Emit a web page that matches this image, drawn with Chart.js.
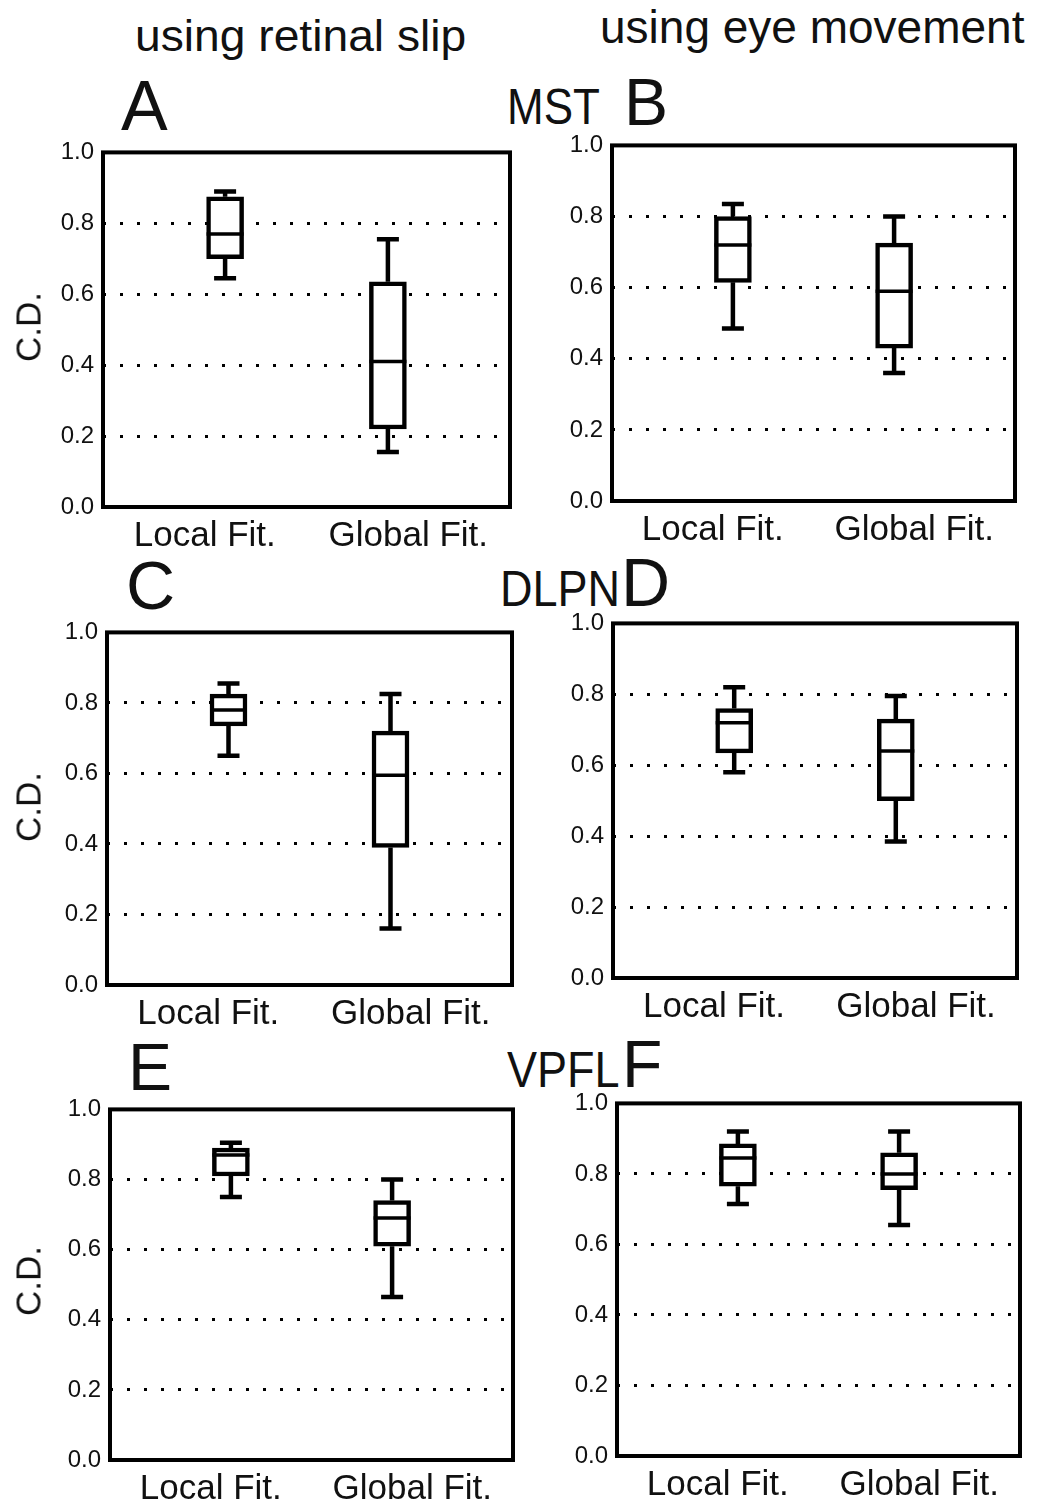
<!DOCTYPE html>
<html>
<head>
<meta charset="utf-8">
<script src="https://cdn.jsdelivr.net/npm/chart.js@4.4.1/dist/chart.umd.min.js"></script>
<style>
    body { margin: 0; background: #fff; width: 1041px; height: 1503px; position: relative; overflow: hidden;
           font-family: "Liberation Sans", Arial, sans-serif; color: #111; }
    .txt { position: absolute; white-space: nowrap; line-height: 1; transform-origin: left top; }
    canvas { position: absolute; }
</style>
</head>
<body>

<div class="txt" style="left:135px;top:14px;font-size:44px;transform:scaleX(1.05)">using retinal slip</div>
<div class="txt" style="left:600px;top:4px;font-size:46px;">using eye movement</div>

<div class="txt" style="left:121px;top:71px;font-size:70px;">A</div>
<div class="txt" style="left:507px;top:82px;font-size:50px;transform:scaleX(0.88)">MST</div>
<div class="txt" style="left:624px;top:69px;font-size:66px;">B</div>

<div class="txt" style="left:126px;top:551px;font-size:68px;">C</div>
<div class="txt" style="left:500px;top:564px;font-size:50px;transform:scaleX(0.9)">DLPN</div>
<div class="txt" style="left:621px;top:548px;font-size:68px;">D</div>

<div class="txt" style="left:128px;top:1034px;font-size:66px;">E</div>
<div class="txt" style="left:507px;top:1045px;font-size:50px;transform:scaleX(0.9)">VPFL</div>
<div class="txt" style="left:622px;top:1031px;font-size:66px;">F</div>

<script>
// ==========================
// Data (five-number summaries: min, q1, median, q3, max)
// ==========================
const categories = ["Local Fit.", "Global Fit."];
const yTicks = [0, 0.2, 0.4, 0.6, 0.8, 1.0];

const mstSlipLocal    = [0.645, 0.70, 0.77, 0.875, 0.89];
const mstSlipGlobal   = [0.155, 0.22, 0.41, 0.635, 0.755];
const mstEyeLocal     = [0.485, 0.615, 0.72, 0.80, 0.835];
const mstEyeGlobal    = [0.36, 0.43, 0.59, 0.725, 0.80];

const dlpnSlipLocal   = [0.65, 0.735, 0.78, 0.825, 0.855];
const dlpnSlipGlobal  = [0.16, 0.39, 0.595, 0.72, 0.825];
const dlpnEyeLocal    = [0.58, 0.635, 0.72, 0.76, 0.82];
const dlpnEyeGlobal   = [0.385, 0.50, 0.64, 0.73, 0.795];

const vpflSlipLocal   = [0.75, 0.81, 0.87, 0.89, 0.905];
const vpflSlipGlobal  = [0.465, 0.61, 0.69, 0.74, 0.80];
const vpflEyeLocal    = [0.715, 0.765, 0.845, 0.885, 0.92];
const vpflEyeGlobal   = [0.655, 0.755, 0.80, 0.86, 0.92];

const FONT = '"Liberation Sans", Arial, sans-serif';

// ==========================
// Whiskers, medians and frame
// ==========================
const boxWhisker = {
    id: "boxWhisker",
    beforeDatasetsDraw(chart, args, opts) {
        const { ctx, scales: { x, y } } = chart;
        ctx.save();
        ctx.strokeStyle = "#000";
        ctx.lineWidth = 4.5;
        opts.stats.forEach((s, i) => {
            const px = x.getPixelForValue(i);
            const half = 11;
            ctx.beginPath();
            ctx.moveTo(px, y.getPixelForValue(s[3]));
            ctx.lineTo(px, y.getPixelForValue(s[4]));
            ctx.moveTo(px, y.getPixelForValue(s[1]));
            ctx.lineTo(px, y.getPixelForValue(s[0]));
            ctx.moveTo(px - half, y.getPixelForValue(s[4]));
            ctx.lineTo(px + half, y.getPixelForValue(s[4]));
            ctx.moveTo(px - half, y.getPixelForValue(s[0]));
            ctx.lineTo(px + half, y.getPixelForValue(s[0]));
            ctx.stroke();
        });
        ctx.restore();
    },
    afterDatasetsDraw(chart, args, opts) {
        const { ctx, scales: { x, y } } = chart;
        const meta = chart.getDatasetMeta(0);
        ctx.save();
        ctx.strokeStyle = "#000";
        ctx.lineWidth = 3.5;
        opts.stats.forEach((s, i) => {
            const px = x.getPixelForValue(i);
            const w = meta.data[i].width / 2;
            const py = y.getPixelForValue(s[2]);
            ctx.beginPath();
            ctx.moveTo(px - w, py);
            ctx.lineTo(px + w, py);
            ctx.stroke();
        });
        const a = chart.chartArea;
        ctx.lineWidth = 4;
        ctx.strokeRect(a.left, a.top, a.right - a.left, a.bottom - a.top);
        ctx.restore();
    }
};

// ==========================
// Panel builder
// ==========================
function makePanel(area, local, global) {
    const padL = 80, padT = 16, padR = 12, padB = 56;
    const w = area.right - area.left + padL + padR;
    const h = area.bottom - area.top + padT + padB;
    const canvas = document.createElement("canvas");
    canvas.width = w;
    canvas.height = h;
    canvas.style.left = (area.left - padL) + "px";
    canvas.style.top = (area.top - padT) + "px";
    canvas.style.width = w + "px";
    canvas.style.height = h + "px";
    document.body.appendChild(canvas);

    new Chart(canvas, {
        type: "bar",
        data: {
            datasets: [{
                data: [
                    { x: 0, y: [local[1], local[3]] },
                    { x: 1, y: [global[1], global[3]] }
                ],
                backgroundColor: "#fff",
                borderColor: "#000",
                borderWidth: 4.5,
                borderSkipped: false,
                barThickness: 37
            }]
        },
        options: {
            responsive: false,
            animation: false,
            events: [],
            layout: { padding: { top: padT, right: padR, left: 0, bottom: 0 } },
            plugins: {
                legend: { display: false },
                tooltip: { enabled: false },
                boxWhisker: { stats: [local, global] }
            },
            scales: {
                x: {
                    type: "linear",
                    offset: false,
                    min: -0.75,
                    max: 1.75,
                    grid: { display: false, offset: false },
                    border: { display: false },
                    afterBuildTicks: s => { s.ticks = categories.map((c, i) => ({ value: i === 0 ? -0.125 : 1.125 })); },
                    afterFit: s => { s.height = padB; },
                    ticks: {
                        autoSkip: false,
                        maxRotation: 0,
                        padding: 0,
                        color: "#111",
                        font: { size: 35, family: FONT },
                        callback: v => categories[v < 0.5 ? 0 : 1]
                    }
                },
                y: {
                    min: 0,
                    max: 1,
                    afterBuildTicks: s => { s.ticks = yTicks.map(v => ({ value: v })); },
                    afterFit: s => { s.width = padL; },
                    ticks: {
                        padding: 9,
                        color: "#111",
                        font: { size: 24, family: FONT },
                        callback: v => v.toFixed(1)
                    },
                    grid: {
                        drawTicks: false,
                        lineWidth: 3,
                        color: c => (c.tick && c.tick.value > 0.01 && c.tick.value < 0.99) ? "#000" : "rgba(0,0,0,0)"
                    },
                    border: { display: false, dash: [3, 14] }
                }
            }
        },
        plugins: [boxWhisker]
    });
}

makePanel({ left: 103, right: 510, top: 145, bottom: 507 }, mstSlipLocal, mstSlipGlobal);
makePanel({ left: 612, right: 1015, top: 138, bottom: 501 }, mstEyeLocal, mstEyeGlobal);
makePanel({ left: 107, right: 512, top: 625, bottom: 985 }, dlpnSlipLocal, dlpnSlipGlobal);
makePanel({ left: 613, right: 1017, top: 616, bottom: 978 }, dlpnEyeLocal, dlpnEyeGlobal);
makePanel({ left: 110, right: 513, top: 1102, bottom: 1460 }, vpflSlipLocal, vpflSlipGlobal);
makePanel({ left: 617, right: 1020, top: 1096, bottom: 1456 }, vpflEyeLocal, vpflEyeGlobal);

// ==========================
// Y axis titles (left column)
// ==========================
[327, 807, 1281].forEach(cy => {
    const d = document.createElement("div");
    d.className = "txt";
    d.textContent = "C.D.";
    d.style.fontSize = "35px";
    d.style.left = "28px";
    d.style.top = cy + "px";
    d.style.transformOrigin = "center center";
    d.style.transform = "translate(-50%, -50%) rotate(-90deg)";
    document.body.appendChild(d);
});
</script>
</body>
</html>
